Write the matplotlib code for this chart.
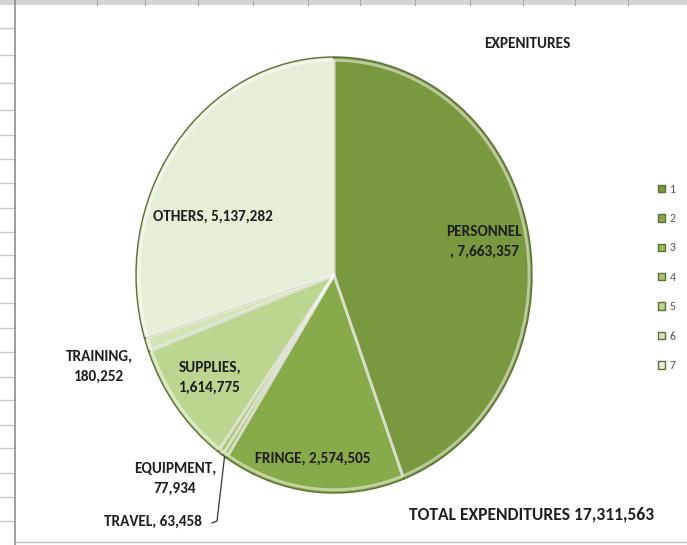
import numpy as np
import matplotlib.pyplot as plt
from matplotlib.lines import Line2D

plt.rcParams['font.family'] = ['Carlito', 'DejaVu Sans']

# expenditure breakdown
categories = ['PERSONNEL', 'FRINGE', 'TRAVEL', 'EQUIPMENT', 'SUPPLIES', 'TRAINING', 'OTHERS']
amounts = [7663357, 2574505, 63458, 77934, 1614775, 180252, 5137282]
legend_labels = ['1', '2', '3', '4', '5', '6', '7']
colors = ['#7a983f', '#89aa4a', '#9bbb59', '#a8c670', '#bcd591', '#d3e4b8', '#e5efd8']
total = sum(amounts)

W, H = 687, 545
fig = plt.figure(figsize=(W / 100, H / 100), dpi=100)
fig.patch.set_facecolor('white')

def px(x, y):
    # pixel coords (origin top-left) -> figure fraction
    return x / W, 1 - y / H

# worksheet grid around the chart object
for gy in [28, 55, 83, 110, 135, 159, 183, 208, 232, 255, 278, 303, 328, 352, 377, 400, 425, 448, 473, 497, 521]:
    fig.add_artist(Line2D([0, 14 / W], [1 - gy / H] * 2, color='#c8c8c8', lw=1))
fig.add_artist(Line2D([15 / W] * 2, [0, 1], color='#8c8c8c', lw=1.2))
fig.add_artist(plt.Rectangle((0, 1 - 5 / H), 1, 5 / H, color='#d4d4d4', lw=0))
for gx in [97, 145, 198, 253, 308, 360, 415, 470, 523, 575, 628]:
    fig.add_artist(Line2D([gx / W] * 2, [1 - 5 / H, 1], color='#a8a8a8', lw=0.8))
fig.add_artist(Line2D([15 / W, 1], [1 - 542 / H] * 2, color='#bdbdbd', lw=1))

# pie drawn in an axes box sized to the ellipse
cx, cy, rx, ry = 334, 275, 198, 218
ax = fig.add_axes([(cx - rx) / W, 1 - (cy + ry) / H, 2 * rx / W, 2 * ry / H])
wedges, _ = ax.pie(amounts, colors=colors, startangle=90, counterclock=False,
                   wedgeprops=dict(edgecolor='#5b6e35', linewidth=1.0))
# soft bevel along the slice borders
ax.pie(amounts, colors=['none'] * 7, startangle=90, counterclock=False, radius=0.985,
       wedgeprops=dict(edgecolor='white', linewidth=2.0, alpha=0.5))
ax.set_aspect('auto')
ax.set_xlim(-1, 1)
ax.set_ylim(-1, 1)
ax.axis('off')

label_kw = dict(fontsize=11, fontweight='bold', color='#1e1e1e', ha='center', va='center',
                linespacing=1.5)
fig.text(*px(527, 44), 'EXPENITURES', **label_kw)
fig.text(*px(484, 242), 'PERSONNEL\n, {:,}'.format(amounts[0]), **label_kw)
fig.text(*px(313, 459), 'FRINGE, {:,}'.format(amounts[1]), **label_kw)
fig.text(*px(213, 217), 'OTHERS, {:,}'.format(amounts[6]), **label_kw)
fig.text(*px(210, 378), 'SUPPLIES,\n{:,}'.format(amounts[4]), **label_kw)
fig.text(*px(99, 367), 'TRAINING,\n{:,}'.format(amounts[5]), **label_kw)
fig.text(*px(175, 479), 'EQUIPMENT,\n{:,}'.format(amounts[3]), **label_kw)
fig.text(*px(153, 522), 'TRAVEL, {:,}'.format(amounts[2]), **label_kw)
fig.text(*px(532, 514), 'TOTAL EXPENDITURES {:,}'.format(total), **dict(label_kw, fontsize=12.6))

# leader line from the travel label to its slice
start = np.pi / 2 - 2 * np.pi * sum(amounts[:2]) / total
mid = start - np.pi * amounts[2] / total
ex, ey = cx + rx * np.cos(mid), cy - ry * np.sin(mid)
fig.add_artist(Line2D([212 / W, 217 / W, ex / W], [1 - 523 / H, 1 - 521 / H, 1 - ey / H],
                      color='#333333', lw=0.9))

fig.legend(wedges, legend_labels, loc='upper left', bbox_to_anchor=px(647, 173),
           frameon=False, fontsize=8.5, handlelength=0.6, handleheight=0.6,
           handletextpad=0.4, labelspacing=1.56, labelcolor='#555555')

fig.savefig('out.png', dpi=100)
